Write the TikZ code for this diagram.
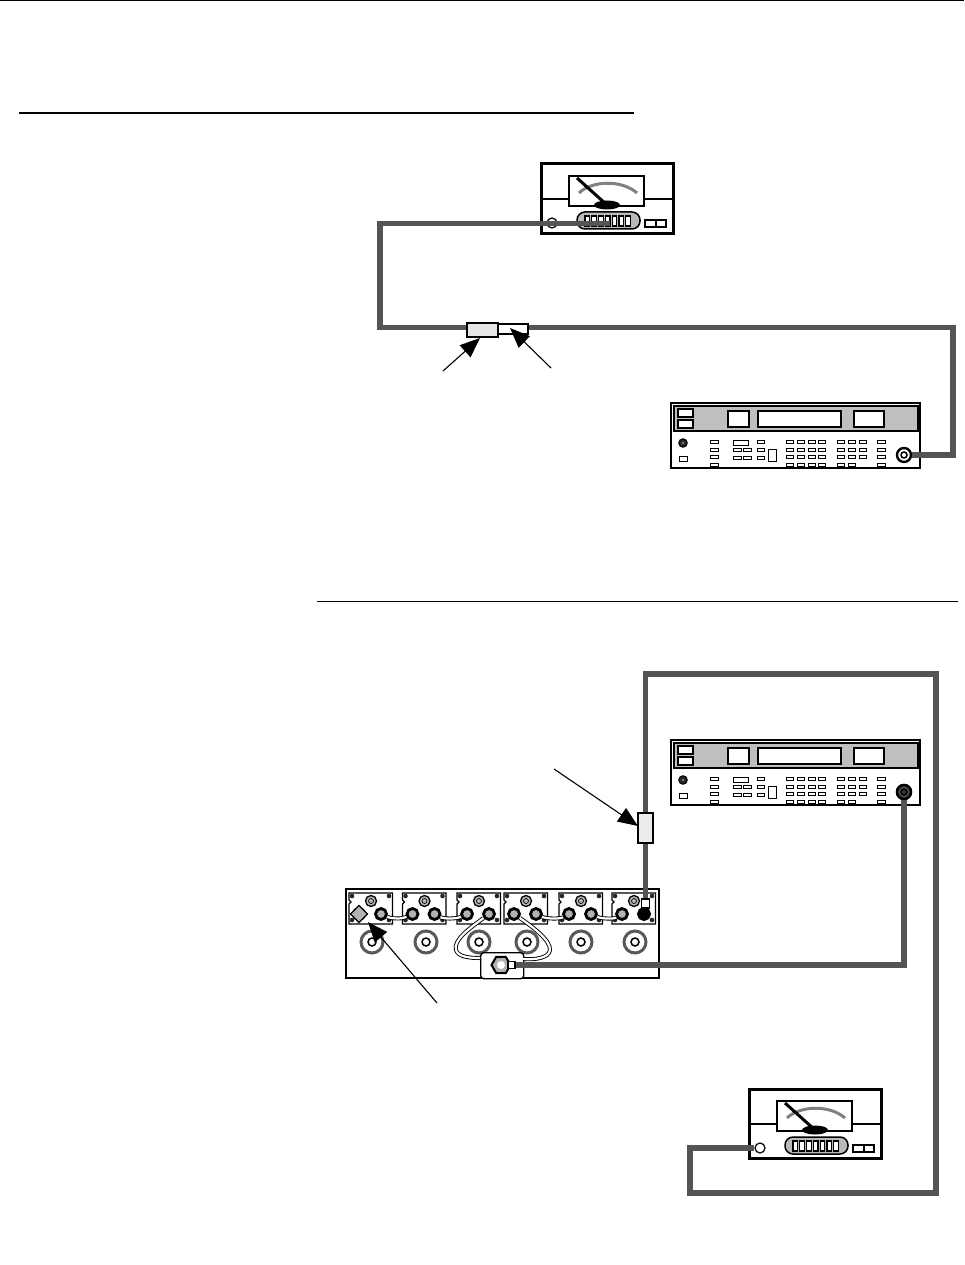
\documentclass[tikz,border=0pt]{standalone}
\usetikzlibrary{arrows.meta,shapes.geometric}

\newcommand{\powermeter}[3]{%
\begin{scope}[shift={(#2,#3)}]
\draw[line width=3pt, fill=white] (0,0) rectangle (132,69.5);
\draw[thinline] (0,35) -- (132,35);
\draw[line width=2pt, fill=white] (28,12) rectangle (103,42);
\draw[line width=3pt, gray] (38,29) .. controls (50,17) and (80,15) .. (96,29);
\fill (66,41) ellipse (13 and 4.5);
\draw[line width=3pt] (36,14) -- (66,41);
\node[circle, draw, fill=white, minimum size=10pt, inner sep=0pt, line width=1.2pt] (#1jack) at (11,59) {};
\draw[line width=1.5pt, fill=gray!55, rounded corners=8pt] (36,48) rectangle (99,65);
\foreach \bx in {0,...,6} \draw[line width=1.2pt, fill=white] (44+6.8*\bx,52) rectangle ++(4.5,10);
\draw[line width=2pt, fill=white] (104,56) rectangle (125,63);
\draw[line width=2pt] (114.5,56) -- (114.5,63);
\coordinate (#1feed) at (69,59.5);
\end{scope}}

\newcommand{\siggen}[4]{%
\begin{scope}[shift={(#2,#3)}]
\draw[line width=2pt, fill=white] (0,0) rectangle (249,65);
\draw[line width=1.2pt, fill=gray!50] (3,3) rectangle (247,28);
\draw[panel] (7,6) rectangle (22,14);
\draw[panel] (7,17) rectangle (22,25);
\draw[panel] (57,8) rectangle (78,24);
\draw[panel] (87,8) rectangle (170,24);
\draw[panel] (183,8) rectangle (213,24);
\node[circle, draw, fill=black!85, minimum size=8.5pt, inner sep=0pt, line width=1pt] (#1knob) at (12,40) {};
\fill[gray] (12,40) circle (1.3);
\draw[btn] (8,53) rectangle ++(8,5);
\foreach \by in {37,45,52,60} {
  \draw[btn] (39,\by) rectangle ++(8,3.5);
  \draw[btn] (206,\by) rectangle ++(8,3.5);
  \foreach \bx in {115,126,137,147} \draw[btn] (\bx,\by) rectangle ++(7,3.5);
}
\foreach \by in {37,45,52} \foreach \bx in {166,177,188} \draw[btn] (\bx,\by) rectangle ++(7,3.5);
\foreach \bx in {166,177} \draw[btn] (\bx,60) rectangle ++(7,3.5);
\draw[btn] (62,37) rectangle ++(15,5);
\foreach \by in {45,53} {
  \draw[btn] (62,\by) rectangle ++(8,3.5);
  \draw[btn] (72,\by) rectangle ++(8,3.5);
  \draw[btn] (86,\by) rectangle ++(7,3.5);
}
\draw[btn] (86,37) rectangle ++(7,3.5);
\draw[btn] (97,46) rectangle (105,58);
\node[circle, draw, fill=#4, minimum size=14pt, inner sep=0pt, line width=2.4pt] (#1jack) at (233,52) {};
\draw[line width=1.5pt, fill=white!60!#4] (233,52) circle (3);
\end{scope}}

\begin{document}
\begin{tikzpicture}[x=1pt, y=-1pt]
\tikzset{thinline/.style={line width=1.2pt}}
\tikzset{panel/.style={line width=1.6pt, fill=white}}
\tikzset{btn/.style={line width=1pt, fill=white}}
\tikzset{cable/.style={line width=5.5pt, draw=black!67}}
\tikzset{pointer/.style={-{Triangle[length=20pt, width=16pt]}, line width=1.1pt}}
\tikzset{adapter/.style={draw, line width=1.5pt, inner sep=0pt}}
\tikzset{jumper/.style={draw=black, double=white, double distance=2.2pt, line width=.9pt}}
\tikzset{portjack/.style={circle, draw, fill=gray!60, minimum size=11pt, inner sep=0pt, line width=2.8pt}}
\useasboundingbox (0,0) rectangle (964,1265);
\fill[white] (0,0) rectangle (964,1265);
\draw[line width=1.5pt] (0,0.7) -- (964,0.7);
\draw[line width=1.3pt] (19,113) -- (634,113);
\draw[line width=.9pt] (317,601) -- (958,601);

\powermeter{pwrA}{541}{164}
\siggen{genA}{671}{403}{white}
\coordinate (bendA) at (380,327.5);
\coordinate (bendB) at (953,455);
\node[adapter, minimum width=31pt, minimum height=14pt] (adaptL) at (482.5,330) {};
\node[adapter, minimum width=30pt, minimum height=10pt] (adaptR) at (513,329) {};
\draw[cable] (pwrAfeed) -| (bendA) -- (adaptL.west |- bendA);
\draw[cable] (adaptR.east |- bendA) -| (bendB) -- (genAjack);
\node[adapter, fill=gray!20, minimum width=31pt, minimum height=14pt] at (adaptL) {};
\node[adapter, fill=white, minimum width=30pt, minimum height=10pt] at (adaptR) {};
\coordinate (tailA) at (443,371);
\coordinate (tipA) at (480,338);
\coordinate (tailB) at (551,368);
\coordinate (tipB) at (510,328);
\draw[pointer] (tailA) -- (tipA);
\draw[pointer] (tailB) -- (tipB);

\siggen{genB}{671}{740}{gray!60!black}
\powermeter{pwrB}{749}{1089}
\draw[line width=2.8pt, fill=white] (346,889) rectangle (659,978);
\foreach \i/\x in {1/349,2/402.5,3/457,4/504,5/559,6/612} {
  \draw[line width=1.3pt, fill=white] (\x,893) -- ++(43.5,0) -- ++(0,31) -- ++(-43.5,0) -- ++(0,-20) -- ++(2,-2) -- ++(-2,-2) -- cycle;
  \foreach \sx/\sy in {3/3,40/3,3/27,40/27} \fill[black!85] (\x+\sx,893+\sy) circle (2.3);
  \draw[line width=1.3pt, fill=gray!55] (\x+22,901) circle (5.5);
  \draw[line width=.7pt] (\x+22,901) circle (2.5);
  \node[portjack] (m\i-L) at (\x+10,914) {};
  \node[portjack] (m\i-R) at (\x+32,914) {};
}
\foreach \i/\x in {1/372,2/426,3/479,4/527,5/581,6/635} {
  \node[circle, draw=black!65, fill=white, minimum size=22pt, inner sep=0pt, line width=3pt] (hole\i) at (\x,942) {};
  \draw[line width=1.5pt] (\x,942) circle (4);
}
\node[rotate=45, draw, fill=gray!60, minimum size=12pt, inner sep=0pt, line width=1.3pt] (term) at (m1-L) {};
\node[draw, fill=white, line width=1.4pt, rounded corners=3pt, minimum width=43pt, minimum height=26pt, inner sep=0pt, anchor=north west] (patch) at (480,952) {};
\draw[jumper] (m1-R) .. controls (392,919) and (402,919) .. (m2-L);
\draw[jumper] (m2-R) .. controls (444,919) and (456,919) .. (m3-L);
\draw[jumper] (m4-R) .. controls (547,919) and (560,919) .. (m5-L);
\draw[jumper] (m5-R) .. controls (602,919) and (614,919) .. (m6-L);
\coordinate (loopA) at (480,958);
\coordinate (loopB) at (523,959);
\draw[jumper] (m3-R) .. controls (470,928) and (453,940) .. (456,950) .. controls (458,957) and (470,958) .. (loopA);
\draw[jumper] (m4-L) .. controls (530,925) and (551,940) .. (550,950) .. controls (549,958) and (535,960) .. (loopB);
\node[regular polygon, regular polygon sides=6, draw, fill=gray!60, line width=2pt, minimum size=19pt, inner sep=0pt] (hexnut) at (501,965) {};
\fill[white] (501,965) circle (4);
\node[draw, fill=white, line width=1.3pt, minimum width=7pt, minimum height=7pt, inner sep=0pt] (patchtip) at (511.5,965) {};
\draw[cable] (genBjack) |- (patchtip.east);
\node[circle, draw, fill=gray!60!black, minimum size=14pt, inner sep=0pt, line width=2.4pt] at (genBjack) {};
\draw[line width=1.5pt, fill=gray!40!black] (genBjack) circle (3);

\node[adapter, minimum width=15pt, minimum height=30pt] (adaptV) at (645.5,828) {};
\node[circle, fill=black, minimum size=13pt, inner sep=0pt] (plugbase) at (m6-R) {};
\node[draw, fill=white, line width=1.2pt, minimum width=7.5pt, minimum height=9pt, inner sep=0pt] (plug) at (645.5,903.5) {};
\coordinate (cornerA) at (690,1193);
\coordinate (cornerB) at (936,674);
\draw[cable] (pwrBjack) -| (cornerA) -| (cornerB) -| (adaptV.north);
\draw[cable] (adaptV.south) -- (plug.north);
\node[adapter, fill=gray!15, minimum width=15pt, minimum height=30pt] at (adaptV) {};
\coordinate (tailC) at (554,769);
\coordinate (tipC) at (638,826);
\coordinate (tailD) at (437,1003);
\coordinate (tipD) at (368,922);
\draw[pointer] (tailC) -- (tipC);
\draw[pointer] (tailD) -- (tipD);
\end{tikzpicture}
\end{document}
